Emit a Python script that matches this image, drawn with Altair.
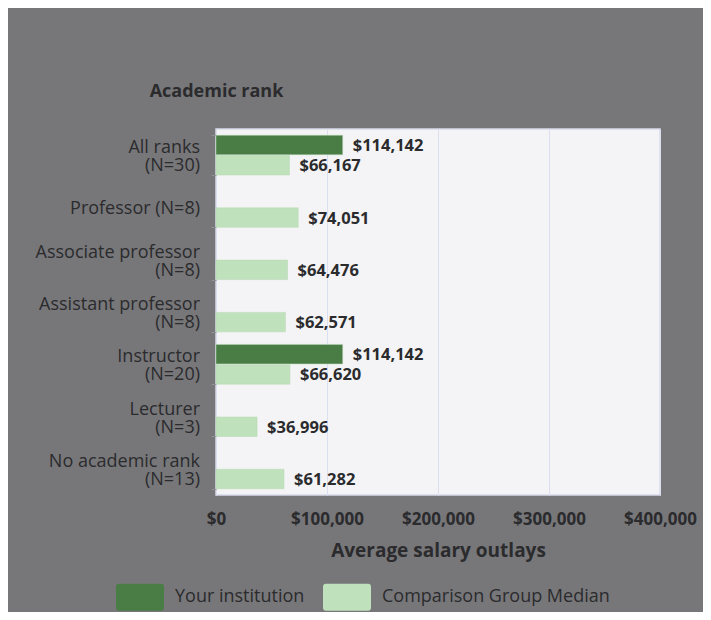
import altair as alt
import pandas as pd

ranks = [
    "All ranks|(N=30)",
    "Professor (N=8)",
    "Associate professor|(N=8)",
    "Assistant professor|(N=8)",
    "Instructor|(N=20)",
    "Lecturer|(N=3)",
    "No academic rank|(N=13)",
]
institution = [114142, None, None, None, 114142, None, None]
comparison = [66167, 74051, 64476, 62571, 66620, 36996, 61282]
series = ["Your institution", "Comparison Group Median"]
x_ticks = [0, 100000, 200000, 300000, 400000]

rows = []
for r, a, b in zip(ranks, institution, comparison):
    if a is not None:
        rows.append({"rank": r, "series": series[0], "value": a})
    if b is not None:
        rows.append({"rank": r, "series": series[1], "value": b})
df = pd.DataFrame(rows)
rank_df = pd.DataFrame({"rank": ranks})

FONT = "Open Sans"
TXT = "#2b2b2d"

rect_path = ("M-0.88,-0.5625 L0.88,-0.5625 Q1,-0.5625 1,-0.44 L1,0.44 Q1,0.5625 0.88,0.5625 "
             "L-0.88,0.5625 Q-1,0.5625 -1,0.44 L-1,-0.44 Q-1,-0.5625 -0.88,-0.5625 Z")

y_scale = alt.Scale(domain=ranks, paddingInner=0.24, paddingOuter=0.12)
y_enc = alt.Y(
    "rank:N",
    sort=ranks,
    scale=y_scale,
    axis=alt.Axis(
        title="Academic rank",
        titleAngle=0,
        titleX=0,
        titleY=-38,
        titleAlign="center",
        titleBaseline="middle",
        titleFont=FONT,
        titleFontSize=18,
        titleFontWeight="bold",
        titleColor=TXT,
        labels=False,
        tickBand="extent",
        tickColor="#909094",
        tickSize=5,
        domain=False,
    ),
)
yoff_enc = alt.YOffset("series:N", sort=series, scale=alt.Scale(domain=series, paddingInner=0.04))
x_enc = alt.X(
    "value:Q",
    scale=alt.Scale(domain=[0, 400000], nice=False),
    axis=alt.Axis(
        title="Average salary outlays",
        values=x_ticks,
        format="$,.0f",
        labelFlush=False,
        labelOverlap=False,
        labelFont=FONT,
        labelFontSize=17,
        labelFontWeight="bold",
        labelColor=TXT,
        labelPadding=16,
        ticks=False,
        domain=False,
        grid=True,
        gridColor="#dcdff0",
        titleFont=FONT,
        titleFontSize=19,
        titleFontWeight="bold",
        titleColor=TXT,
        titlePadding=14,
    ),
)

base = alt.Chart(df).encode(y=y_enc, yOffset=yoff_enc)

bars = base.mark_bar(stroke="#b6d9b2", strokeWidth=0.5).encode(
    x=x_enc,
    color=alt.Color(
        "series:N",
        scale=alt.Scale(domain=series, range=["#4a7c46", "#bfe1bb"]),
        legend=alt.Legend(
            title=None,
            orient="none",
            direction="horizontal",
            legendX=-100,
            legendY=444,
            symbolType=rect_path,
            symbolSize=2304,
            symbolStrokeWidth=0,
            symbolOpacity=1,
            labelFont=FONT,
            labelFontSize=18,
            labelColor=TXT,
            labelLimit=400,
            labelOffset=11,
            columnPadding=18,
            padding=0,
        ),
    ),
)

values = base.mark_text(
    align="left", baseline="middle", dx=10, dy=1, font=FONT, fontSize=16.5, fontWeight="bold", color=TXT
).encode(
    x=alt.X("value:Q"),
    text=alt.Text("value:Q", format="$,.0f"),
)

label_style = dict(align="right", baseline="middle", font=FONT, fontSize=18, color=TXT,
                   lineBreak="|", lineHeight=18)
rank_base = alt.Chart(rank_df).encode(
    y=alt.Y("rank:N", sort=ranks, scale=y_scale),
    x=alt.value(-16),
    text="rank:N",
)
multi_labels = rank_base.transform_filter("indexof(datum.rank, '|') >= 0").mark_text(dy=-7, **label_style)
single_labels = rank_base.transform_filter("indexof(datum.rank, '|') < 0").mark_text(dy=2, **label_style)

chart = (
    alt.layer(bars, values, multi_labels, single_labels)
    .properties(
        width=444,
        height=366,
        autosize=alt.AutoSizeParams(type="none"),
        padding={"left": 208, "top": 121, "right": 43, "bottom": 117},
        background="#77777a",
    )
    .configure_view(fill="#f4f4f6", stroke="#d8dbea", strokeWidth=1.5)
)

chart.save("out.html", embed_options={"renderer": "svg", "actions": False})
